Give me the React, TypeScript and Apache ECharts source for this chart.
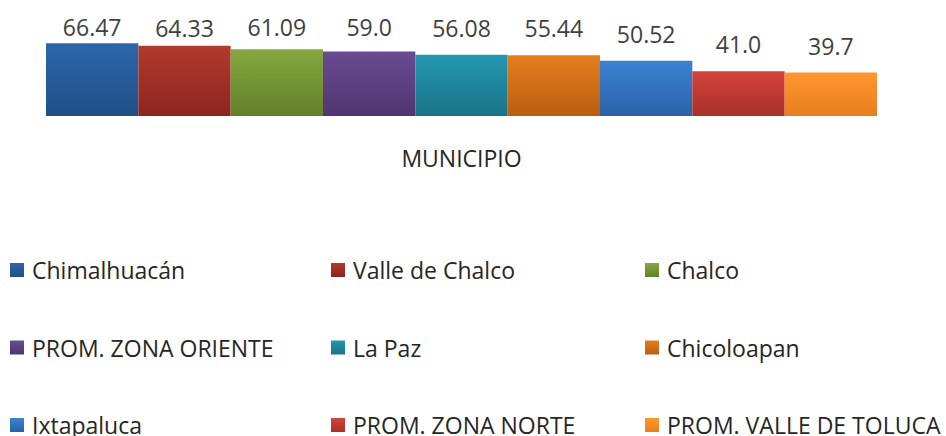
import React, { useEffect, useRef } from "react";
import * as echarts from "echarts";

const categories = ["MUNICIPIO"];
const seriesNames = [
  "Chimalhuacán",
  "Valle de Chalco",
  "Chalco",
  "PROM. ZONA ORIENTE",
  "La Paz",
  "Chicoloapan",
  "Ixtapaluca",
  "PROM. ZONA NORTE",
  "PROM. VALLE DE TOLUCA",
];
const seriesValues = [66.47, 64.33, 61.09, 59.0, 56.08, 55.44, 50.52, 41.0, 39.7];
const valueLabels = ["66.47", "64.33", "61.09", "59.0", "56.08", "55.44", "50.52", "41.0", "39.7"];

// styling only
const topColors = ["#2c67ab", "#b23a2e", "#84a83d", "#6a4b91", "#2397b2", "#e57e1d", "#3b82d4", "#d4443a", "#ff9630"];
const bottomColors = ["#214f86", "#8b251e", "#62802c", "#4f3570", "#1a7388", "#b95e12", "#2b61a8", "#a8302a", "#e87f1e"];
const labelGaps = [4.8, 6.5, 11, 12.5, 15.5, 15.5, 15.5, 15.5, 15.5];
const legendColLeft = [10, 331, 645];
const legendRowCenter = [270, 347.5, 425];

export default function App() {
  const ref = useRef<HTMLDivElement>(null);
  useEffect(() => {
    if (!ref.current) return;
    const chart = echarts.init(ref.current, null, { renderer: "svg" });
    const font = "'Open Sans', sans-serif";
    const series = seriesNames.map((name, i) => ({
      name,
      type: "bar",
      data: [seriesValues[i]],
      barGap: "0%",
      barCategoryGap: "0%",
      itemStyle: {
        color: new echarts.graphic.LinearGradient(0, 0, 0, 1, [
          { offset: 0, color: topColors[i] },
          { offset: 1, color: bottomColors[i] },
        ]),
      },
      label: {
        show: true,
        position: "top",
        distance: labelGaps[i],
        formatter: () => valueLabels[i],
        color: "#404040",
        fontFamily: font,
        fontSize: 23,
        lineHeight: 23,
      },
    }));
    const legends = seriesNames.map((name, i) => ({
      orient: "horizontal",
      left: legendColLeft[i % 3],
      top: legendRowCenter[Math.floor(i / 3)] - 12,
      itemWidth: 14,
      itemHeight: 14,
      icon: "rect",
      padding: 0,
      data: [name],
      textStyle: { color: "#262626", fontFamily: font, fontSize: 23, lineHeight: 24, padding: [0, 0, 0, 3] },
    }));
    chart.setOption({
      animation: false,
      backgroundColor: "#ffffff",
      grid: { left: 46, right: 946 - 877, top: 116 - 70 * (72.7 / 66.47), bottom: 436 - 116 },
      xAxis: {
        type: "category",
        data: categories,
        axisLine: { show: false },
        axisTick: { show: false },
        axisLabel: { show: false },
        name: "MUNICIPIO",
        nameLocation: "middle",
        nameGap: 30,
        nameTextStyle: { color: "#262626", fontFamily: font, fontSize: 23 },
      },
      yAxis: {
        type: "value",
        min: 0,
        max: 70,
        show: false,
        splitLine: { show: false },
      },
      legend: legends,
      series,
    });
    return () => chart.dispose();
  }, []);
  return (
    <div
      ref={ref}
      style={{ position: "fixed", left: 0, top: 0, width: 946, height: 436, background: "#fff" }}
    />
  );
}
